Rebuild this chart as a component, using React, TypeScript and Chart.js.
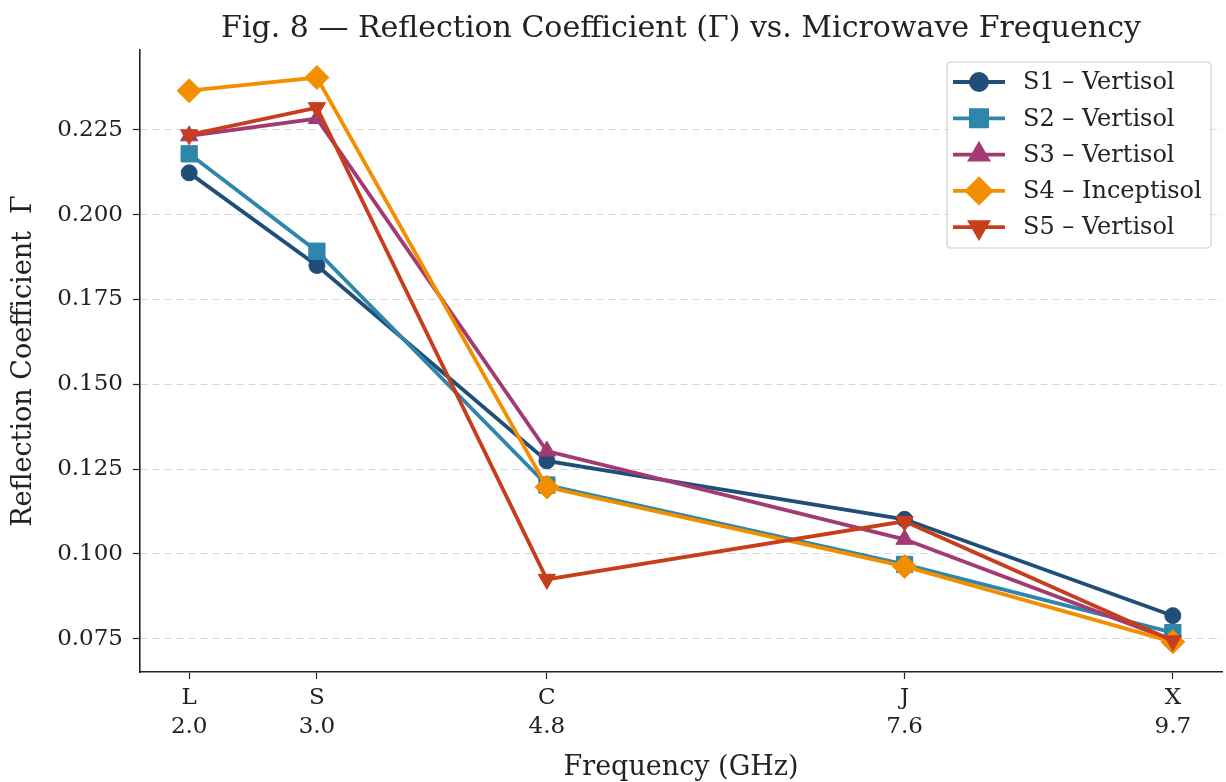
import React, { useEffect, useRef } from "react";
import { Chart, registerables } from "chart.js";
import { drawPoint } from "chart.js/helpers";

Chart.register(...registerables);

const bandLabels = ["L", "S", "C", "J", "X"];
const frequencies = [2.0, 3.0, 4.8, 7.6, 9.7];
const yTicks = [0.075, 0.1, 0.125, 0.15, 0.175, 0.2, 0.225];

const seriesNames = ["S1 – Vertisol", "S2 – Vertisol", "S3 – Vertisol", "S4 – Inceptisol", "S5 – Vertisol"];
const s1 = [0.2123, 0.185, 0.1274, 0.1102, 0.0818];
const s2 = [0.2179, 0.1892, 0.1203, 0.0969, 0.0768];
const s3 = [0.2232, 0.2283, 0.1303, 0.1043, 0.0746];
const s4 = [0.2365, 0.2404, 0.1197, 0.0963, 0.0741];
const s5 = [0.2235, 0.2315, 0.0925, 0.1096, 0.0744];

const seriesValues = [s1, s2, s3, s4, s5];
const colors = ["#1f4e79", "#2e86ab", "#a23b72", "#f18f01", "#c73e1d"];
const pointStyles = ["circle", "rect", "triangle", "rectRot", "triangle"];
const rotations = [0, 0, 0, 0, 180];
const radii = [8, 11.5, 10, 12, 10];

const FONT = "'DejaVu Serif', serif";

const legendPlugin = {
  id: "customLegend",
  afterDraw(chart: any) {
    const ctx = chart.ctx;
    const area = chart.chartArea;
    const boxW = 264;
    const boxH = 186;
    const x0 = area.right - 11 - boxW;
    const y0 = area.top + 12;
    ctx.save();
    ctx.fillStyle = "rgba(255,255,255,0.85)";
    ctx.strokeStyle = "#cccccc";
    ctx.lineWidth = 1.2;
    ctx.beginPath();
    ctx.roundRect(x0, y0, boxW, boxH, 4);
    ctx.fill();
    ctx.stroke();
    ctx.font = "24px " + FONT;
    ctx.textBaseline = "middle";
    ctx.textAlign = "left";
    for (let i = 0; i < seriesNames.length; i++) {
      const cy = y0 + 20 + i * 36.3;
      ctx.strokeStyle = colors[i];
      ctx.lineWidth = 3.8;
      ctx.beginPath();
      ctx.moveTo(x0 + 6, cy);
      ctx.lineTo(x0 + 58, cy);
      ctx.stroke();
      ctx.fillStyle = colors[i];
      drawPoint(ctx, {
        pointStyle: pointStyles[i],
        rotation: rotations[i],
        radius: radii[i],
        borderWidth: 1,
      } as any, x0 + 32, cy);
      ctx.fillStyle = "#222";
      ctx.fillText(seriesNames[i], x0 + 76, cy + 1);
    }
    ctx.restore();
  },
};

export default function App() {
  const ref = useRef<HTMLCanvasElement>(null);
  useEffect(() => {
    if (!ref.current) return;
    const datasets = seriesValues.map((vals, i) => ({
      label: seriesNames[i],
      data: vals.map((v, j) => ({ x: frequencies[j], y: v })),
      borderColor: colors[i],
      backgroundColor: colors[i],
      borderWidth: 3.8,
      pointStyle: pointStyles[i],
      pointRotation: rotations[i],
      pointRadius: radii[i],
      pointHoverRadius: radii[i],
      pointBorderWidth: 1,
      pointBorderColor: colors[i],
      pointBackgroundColor: colors[i],
      order: 4 - i,
      tension: 0,
      clip: false,
    }));
    const chart = new Chart(ref.current, {
      type: "line",
      data: { datasets: datasets as any },
      plugins: [legendPlugin],
      options: {
        animation: false,
        responsive: true,
        maintainAspectRatio: false,
        layout: { autoPadding: false, padding: { left: 0, right: 4, top: 0, bottom: 0 } },
        plugins: {
          legend: { display: false },
          tooltip: { enabled: false },
          title: {
            display: true,
            fullSize: false,
            text: "Fig. 8 — Reflection Coefficient (Γ) vs. Microwave Frequency",
            color: "#222",
            font: { family: FONT, size: 30, weight: "normal", lineHeight: 1.2 },
            padding: { top: 11, bottom: 3 },
          },
        },
        scales: {
          x: {
            type: "linear",
            min: 1.615,
            max: 10.085,
            afterBuildTicks: (s: any) => {
              s.ticks = frequencies.map((v) => ({ value: v }));
            },
            afterFit: (s: any) => {
              s.height = 110;
              s.paddingLeft = 0;
              s.paddingRight = 0;
            },
            ticks: {
              color: "#222",
              font: { family: FONT, size: 23, lineHeight: 1.26 },
              padding: 5,
              maxRotation: 0,
              autoSkip: false,
              callback: (v: any) => {
                const i = frequencies.indexOf(Number(v));
                return i >= 0 ? [bandLabels[i], frequencies[i].toFixed(1)] : "";
              },
            },
            grid: { drawOnChartArea: false, tickLength: 7, tickColor: "#222", tickWidth: 1.2 },
            border: { color: "#222", width: 1.6 },
            title: {
              display: true,
              text: "Frequency (GHz)",
              color: "#222",
              font: { family: FONT, size: 27 },
              padding: { top: 0, bottom: -2 },
            },
          },
          y: {
            type: "linear",
            min: 0.0652,
            max: 0.2485,
            afterBuildTicks: (s: any) => {
              s.ticks = yTicks.map((v) => ({ value: v }));
            },
            afterFit: (s: any) => {
              s.width = 140;
            },
            ticks: {
              color: "#222",
              font: { family: FONT, size: 23 },
              padding: 10,
              callback: (v: any) => Number(v).toFixed(3),
            },
            grid: {
              color: "rgba(0,0,0,0.16)",
              lineWidth: 1,
              tickLength: 7,
              tickColor: "#222",
              tickWidth: 1.2,
              tickBorderDash: [],
            } as any,
            border: { color: "#222", width: 1.6, dash: [7, 5] } as any,
            title: {
              display: true,
              text: "Reflection Coefficient  Γ",
              color: "#222",
              font: { family: FONT, size: 27 },
              padding: { top: 8, bottom: 0 },
            },
          },
        },
      },
    });
    return () => chart.destroy();
  }, []);
  return (
    <div style={{ position: "absolute", left: 0, top: 0, width: 1226, height: 782, background: "#fff" }}>
      <canvas ref={ref} />
    </div>
  );
}
